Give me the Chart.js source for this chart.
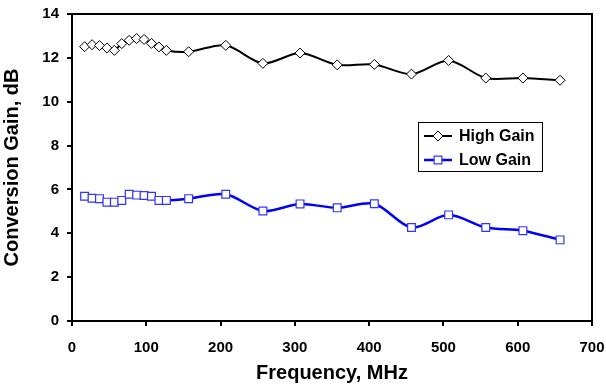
<!DOCTYPE html>
<html lang="en">
<head>
  <meta charset="UTF-8" />
  <title>Conversion Gain vs Frequency</title>
  <script src="https://cdn.jsdelivr.net/npm/chart.js"></script>
  <style>
    html, body {
      margin: 0;
      background: #ffffff;
    }
    #wrap {
      width: 606px;
      height: 385px;
    }
  </style>
</head>
<body>
  <div id="wrap"><canvas id="gainChart" width="606" height="385"></canvas></div>

  <script>
    // frequencies in MHz
    const freqs = [17, 27, 37, 47, 57, 67, 77, 87, 97, 107, 117, 127, 157, 207, 257, 307, 357, 407, 457, 507, 557, 607, 657];
    const highGain = [12.51, 12.6, 12.56, 12.45, 12.34, 12.65, 12.8, 12.88, 12.84, 12.66, 12.5, 12.34, 12.28, 12.57, 11.75, 12.22, 11.68, 11.7, 11.26, 11.88, 11.08, 11.08, 10.98];
    const lowGain = [5.69, 5.6, 5.58, 5.42, 5.42, 5.5, 5.78, 5.74, 5.72, 5.69, 5.5, 5.5, 5.58, 5.78, 5.02, 5.34, 5.16, 5.35, 4.26, 4.84, 4.26, 4.12, 3.7];
    const xTicks = [0, 100, 200, 300, 400, 500, 600, 700];
    const yTicks = [0, 2, 4, 6, 8, 10, 12, 14];

    const FONT = "Arial, 'Liberation Sans', sans-serif";

    function toPoints(ys) {
      return freqs.map((f, i) => ({ x: f, y: ys[i] }));
    }

    function drawMarker(ctx, style, r, x, y) {
      if (style === 'rectRot') {
        ctx.moveTo(x - r, y);
        ctx.lineTo(x, y - r);
        ctx.lineTo(x + r, y);
        ctx.lineTo(x, y + r);
        ctx.closePath();
      } else {
        const s = Math.SQRT1_2 * r;
        ctx.rect(x - s, y - s, 2 * s, 2 * s);
      }
    }

    // box around the plot + legend inside the plot area
    const framePlugin = {
      id: 'frame',
      afterDatasetsDraw(chart) {
        const { ctx, chartArea: a } = chart;
        ctx.save();
        ctx.strokeStyle = '#000';
        ctx.lineWidth = 2;
        ctx.strokeRect(a.left, a.top, a.right - a.left, a.bottom - a.top);

        // legend box
        const bx = 418, by = 122, bw = 124, bh = 49;
        ctx.fillStyle = '#fff';
        ctx.fillRect(bx, by, bw, bh);
        ctx.strokeStyle = '#000';
        ctx.lineWidth = 1;
        ctx.strokeRect(bx + 0.5, by + 0.5, bw, bh);
        ctx.font = 'bold 16px ' + FONT;
        ctx.textBaseline = 'middle';
        chart.data.datasets.forEach((ds, i) => {
          const y = by + 14 + i * 24;
          ctx.strokeStyle = ds.borderColor;
          ctx.lineWidth = ds.borderWidth;
          ctx.beginPath();
          ctx.moveTo(424, y);
          ctx.lineTo(452, y);
          ctx.stroke();
          ctx.fillStyle = ds.pointBackgroundColor;
          ctx.strokeStyle = ds.pointBorderColor;
          ctx.lineWidth = ds.pointBorderWidth;
          ctx.beginPath();
          drawMarker(ctx, ds.pointStyle, ds.pointRadius, 438, y);
          ctx.fill();
          ctx.stroke();
          ctx.fillStyle = '#000';
          ctx.fillText(ds.label, 459, y + 1);
        });
        ctx.restore();
      }
    };

    new Chart(document.getElementById('gainChart'), {
      type: 'line',
      data: {
        datasets: [
          {
            label: 'High Gain',
            data: toPoints(highGain),
            borderColor: '#000000',
            borderWidth: 2,
            tension: 0.3,
            pointStyle: 'rectRot',
            pointRadius: 5,
            pointBorderWidth: 1,
            pointBackgroundColor: '#ffffff',
            pointBorderColor: '#000000'
          },
          {
            label: 'Low Gain',
            data: toPoints(lowGain),
            borderColor: '#0000ff',
            borderWidth: 2.5,
            tension: 0.3,
            pointStyle: 'rect',
            pointRadius: 5.5,
            pointBorderWidth: 1.2,
            pointBackgroundColor: '#ffffff',
            pointBorderColor: '#3333ff'
          }
        ]
      },
      options: {
        responsive: false,
        animation: false,
        devicePixelRatio: 1,
        layout: { padding: { top: 14, right: 0, left: 0, bottom: 0 } },
        plugins: {
          legend: { display: false },
          tooltip: { enabled: false }
        },
        scales: {
          x: {
            type: 'linear',
            min: 0,
            max: 700,
            afterBuildTicks(scale) { scale.ticks = xTicks.map(v => ({ value: v })); },
            afterFit(scale) {
              scale.height = 64;
              scale.paddingLeft = 0;
              scale.paddingRight = 14;
            },
            grid: { display: true, drawOnChartArea: false, drawTicks: true, tickLength: 5, color: '#000', lineWidth: 2 },
            border: { display: true, color: '#000', width: 2 },
            ticks: { color: '#000', padding: 13, maxRotation: 0, font: { family: FONT, size: 15, weight: 'bold' } },
            title: { display: true, text: 'Frequency, MHz', color: '#000', padding: { top: 0, bottom: 0 }, font: { family: FONT, size: 20, weight: 'bold' } }
          },
          y: {
            min: 0,
            max: 14,
            afterBuildTicks(scale) { scale.ticks = yTicks.map(v => ({ value: v })); },
            afterFit(scale) {
              scale.width = 72;
              scale.paddingTop = 0;
              scale.paddingBottom = 0;
            },
            grid: { display: true, drawOnChartArea: false, drawTicks: true, tickLength: 5, color: '#000', lineWidth: 2 },
            border: { display: true, color: '#000', width: 2 },
            ticks: { color: '#000', padding: 8, font: { family: FONT, size: 15, weight: 'bold' } },
            title: { display: true, text: 'Conversion Gain, dB', color: '#000', padding: { top: 0, bottom: 4 }, font: { family: FONT, size: 20, weight: 'bold' } }
          }
        }
      },
      plugins: [framePlugin]
    });
  </script>
</body>
</html>
